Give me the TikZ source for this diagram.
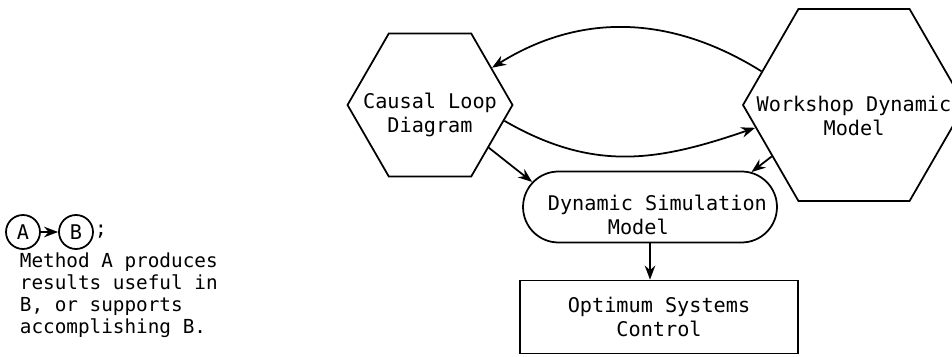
\documentclass[tikz,border=0pt]{standalone}
\usepackage{fontspec}
\setmainfont{DejaVu Sans Mono}
\usepackage{tikz}
\usetikzlibrary{arrows.meta,shapes.geometric,shapes.misc,positioning}
\tikzset{>={Stealth[length=8pt,width=6pt]},
         hexa/.style={draw,regular polygon,regular polygon sides=6,inner sep=0pt},
         simbox/.style={draw,rounded rectangle,minimum width=5.08cm,
                        minimum height=1.42cm,inner sep=0pt},
         ctrlbox/.style={draw,rectangle,minimum width=5.56cm,minimum height=1.46cm,
                         align=center,font=\fontsize{11.5}{13.8}\selectfont},
         txt/.style={align=center,inner sep=0pt,font=\fontsize{11.5}{13.8}\selectfont},
         circ/.style={draw,circle,minimum size=0.68cm,inner sep=0pt,
                      font=\fontsize{11.5}{13.8}\selectfont}}

\begin{document}
\begin{tikzpicture}[x=0.02cm,y=-0.02cm,line width=1pt]
\useasboundingbox (0,0) rectangle (952,357);
% methods
\node[hexa,minimum size=3.3cm] (causal) at (430,105) {};
\node[txt] (causal-t) at (430,115) {Causal Loop\\Diagram};
\node[hexa,minimum size=4.44cm] (wsm) at (854,105) {};
\node[txt] (wsm-t) at (854,116) {Workshop Dynamic\\Model};
\node[simbox] (dsm) at (650,207) {};
\node[txt,align=left,anchor=west] (dsm-t) at (547,215) {Dynamic Simulation\\\hspace*{1.2cm}Model};
\node[ctrlbox] (osc) at (659,317) {Optimum Systems\\Control};
% legend
\node[circ] (a) at (23,232) {A};
\node[circ] (b) at (76,232) {B};
\node[txt,anchor=west] (semi) at (b.east) {;};
\node[txt,align=left,anchor=north west,font=\fontsize{11}{12.5}\selectfont]
  (key) at (19,252) {Method A produces\\results useful in\\B, or supports\\accomplishing B.};
\path[->]
(wsm.160) edge[out=148,in=32] (causal.31)
(causal.-12) edge[out=-30,in=199,looseness=1.05] (wsm.193)
(causal.-36) edge (dsm.168)
(wsm.212) edge (dsm.19)
(dsm.south) edge (dsm.south |- osc.north)
(a) edge (b);
\end{tikzpicture}
\end{document}
